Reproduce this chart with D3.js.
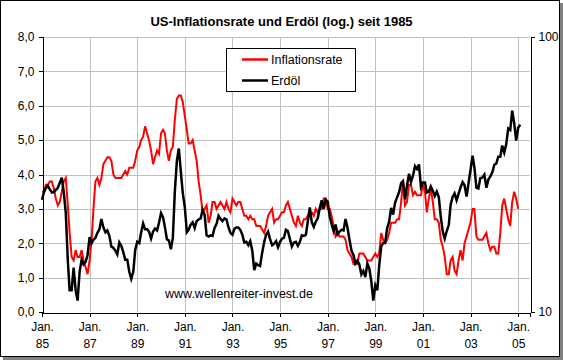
<!DOCTYPE html>
<html>
<head>
<meta charset="utf-8">
<script src="https://cdnjs.cloudflare.com/ajax/libs/d3/7.8.5/d3.min.js"></script>
<style>
  html, body { margin: 0; padding: 0; background: #ffffff; }
  svg { display: block; }
  text { font-family: Arial, "Liberation Sans", sans-serif; fill: #000; }
</style>
</head>
<body>
<script>
// ---------- DATA ----------
const title = "US-Inflationsrate und Erdöl (log.) seit 1985";
const seriesNames = ["Inflationsrate", "Erdöl"];
const watermark = "www.wellenreiter-invest.de";
const startYear = 1985; // monthly data starting January 1985

// US inflation rate (% y/y), monthly Jan 1985 – Jan 2005
const inflation = [
  3.5,3.5,3.7,3.7,3.8,3.8,3.6,3.3,3.1,3.2,3.5,3.8,
  3.9,3.1,2.3,1.6,1.5,1.8,1.6,1.6,1.8,1.5,1.3,1.1,
  1.5,2.1,3.0,3.8,3.9,3.7,3.9,4.3,4.4,4.5,4.5,4.4,
  4.0,3.9,3.9,3.9,3.9,4.0,4.1,4.0,4.2,4.2,4.2,4.4,
  4.7,4.8,5.0,5.1,5.4,5.2,5.0,4.7,4.3,4.5,4.7,4.6,
  5.2,5.3,5.2,4.7,4.4,4.7,4.8,5.6,6.2,6.3,6.3,6.1,
  5.7,5.3,4.9,4.9,5.0,4.7,4.4,3.8,3.4,2.9,3.0,3.1,
  2.6,2.8,3.2,3.2,3.0,3.1,3.2,3.1,3.0,3.2,3.0,2.9,
  3.3,3.2,3.1,3.2,3.2,3.0,2.8,2.8,2.7,2.8,2.7,2.7,
  2.5,2.5,2.5,2.4,2.3,2.5,2.8,2.9,3.0,2.6,2.7,2.7,
  2.8,2.9,2.9,3.1,3.2,3.0,2.8,2.6,2.5,2.8,2.6,2.5,
  2.7,2.7,2.8,2.9,2.9,2.8,3.0,2.9,3.0,3.0,3.3,3.3,
  3.0,3.0,2.8,2.5,2.2,2.3,2.2,2.2,2.2,2.1,1.8,1.7,
  1.6,1.4,1.4,1.4,1.7,1.7,1.7,1.6,1.5,1.5,1.5,1.6,
  1.7,1.6,1.7,2.3,2.1,2.0,2.1,2.3,2.6,2.6,2.6,2.7,
  2.7,3.2,3.8,3.1,3.2,3.7,3.7,3.4,3.5,3.4,3.4,3.4,
  3.7,3.5,2.9,3.3,3.6,3.2,2.7,2.7,2.6,2.1,1.9,1.6,
  1.1,1.1,1.5,1.6,1.2,1.1,1.5,1.8,1.5,2.0,2.2,2.4,
  2.6,3.0,3.0,2.2,2.1,2.1,2.1,2.2,2.3,2.0,1.8,1.9,
  1.9,1.7,1.7,2.3,3.1,3.3,3.0,2.7,2.5,3.2,3.5,3.3,
  3.0
];

// Crude oil price (USD/barrel, log scale), monthly Jan 1985 – Feb 2005
const oil = [
  25.6,27.3,28.2,28.8,27.9,27.2,27.3,27.8,28.3,29.5,30.8,27.2,
  22.9,15.4,12.0,12.0,14.5,12.0,11.0,14.0,15.5,14.9,15.2,16.1,
  18.7,17.8,18.3,18.6,19.4,20.0,21.8,20.3,19.5,19.8,18.9,17.3,
  17.1,16.7,16.2,17.9,17.4,16.5,15.5,15.5,14.0,13.2,14.0,16.8,
  18.0,17.8,19.4,21.0,20.0,20.0,19.6,18.5,19.6,20.1,19.8,21.1,
  22.9,22.1,20.4,18.4,18.2,16.9,18.6,27.5,35.5,39.3,32.3,27.0,
  24.0,19.5,19.9,20.8,21.2,20.2,21.4,21.7,21.9,23.5,22.5,19.0,
  18.8,19.0,18.9,20.2,20.9,22.4,21.8,21.4,21.9,21.7,20.3,19.4,
  19.1,20.1,20.3,20.3,19.9,19.1,17.9,18.0,17.5,18.1,16.7,14.2,
  15.0,14.8,14.7,16.4,17.9,19.1,19.6,18.4,17.5,17.7,18.1,17.2,
  18.0,18.5,18.6,19.9,19.7,18.4,17.3,17.9,18.0,17.4,18.0,19.0,
  18.9,19.1,21.3,24.0,21.2,20.4,21.3,21.9,23.9,25.5,23.7,25.6,
  25.2,22.2,20.9,19.7,20.8,19.2,19.6,19.9,19.8,21.8,20.2,18.3,
  16.7,16.1,15.0,15.4,14.9,13.7,14.1,13.4,15.0,14.4,12.9,11.0,
  12.5,12.0,14.7,17.3,17.8,17.9,20.1,21.3,23.9,22.6,25.0,26.1,
  27.3,29.4,29.9,25.7,28.8,31.8,29.7,31.3,33.9,33.1,34.4,28.5,
  29.6,29.6,27.2,27.4,28.6,27.6,26.4,27.4,26.2,22.2,19.6,18.5,
  19.7,20.7,24.5,26.2,27.0,25.5,26.9,28.4,29.7,28.9,26.3,29.4,
  32.9,37.0,33.6,28.3,28.1,30.7,30.8,31.6,28.3,30.3,31.1,32.2,
  34.3,34.7,36.7,36.7,40.3,38.0,40.7,46.5,45.9,54.0,48.5,42.0,
  46.8,48.0
];

const leftTicks = [0,1,2,3,4,5,6,7,8];
const rightTicks = [10, 100];
const xTickYears = [1985,1987,1989,1991,1993,1995,1997,1999,2001,2003,2005];

// ---------- LAYOUT ----------
const W = 563, H = 360;
const plot = { left: 42, right: 530, top: 37, bottom: 312 };

const svg = d3.select("body").append("svg").attr("width", W).attr("height", H);

// frame with shadow
svg.append("rect").attr("x", 3).attr("y", 3).attr("width", W - 3).attr("height", H - 3).attr("fill", "#808080");
svg.append("rect").attr("x", 0.5).attr("y", 0.5).attr("width", 559).attr("height", 356)
   .attr("fill", "#ffffff").attr("stroke", "#000").attr("stroke-width", 1);

const monthDate = i => new Date(startYear, i, 1);

const x = d3.scaleTime()
  .domain([new Date(1985, 0, 1), new Date(2005, 6, 1)])
  .range([plot.left, plot.right]);
const yL = d3.scaleLinear().domain([0, 8]).range([plot.bottom, plot.top]);
const yR = d3.scaleLog().domain([10, 100]).range([plot.bottom, plot.top]);

// gridlines
const grid = svg.append("g").attr("shape-rendering", "crispEdges");
grid.selectAll("line.h").data(leftTicks.filter(d => d > 0)).join("line")
  .attr("x1", plot.left).attr("x2", plot.right)
  .attr("y1", d => Math.round(yL(d)) + 0.5).attr("y2", d => Math.round(yL(d)) + 0.5)
  .attr("stroke", "#c0c0c0").attr("stroke-width", 1);
grid.selectAll("line.v").data(xTickYears.filter(d => d > 1985)).join("line")
  .attr("x1", d => Math.round(x(new Date(d, 0, 1))) + 0.5)
  .attr("x2", d => Math.round(x(new Date(d, 0, 1))) + 0.5)
  .attr("y1", plot.top).attr("y2", plot.bottom)
  .attr("stroke", "#c0c0c0").attr("stroke-width", 1);

// series lines
const infLine = d3.line().x((d, i) => x(monthDate(i))).y(d => yL(d));
const oilLine = d3.line().x((d, i) => x(monthDate(i))).y(d => yR(d));

svg.append("path").datum(inflation).attr("d", infLine)
  .attr("fill", "none").attr("stroke", "#ff0000").attr("stroke-width", 2)
  .attr("stroke-linejoin", "miter");
svg.append("path").datum(oil).attr("d", oilLine)
  .attr("fill", "none").attr("stroke", "#000000").attr("stroke-width", 2.5)
  .attr("stroke-linejoin", "miter");

// axes
const fmtComma = d => d3.format(".1f")(d).replace(".", ",");
const axL = svg.append("g").attr("transform", `translate(${plot.left + 0.5},0)`)
  .call(d3.axisLeft(yL).tickValues(leftTicks).tickSize(4).tickPadding(4).tickFormat(fmtComma));
const axR = svg.append("g").attr("transform", `translate(${plot.right + 0.5},0)`)
  .call(d3.axisRight(yR).tickValues(rightTicks).tickSize(4).tickPadding(4).tickFormat(d3.format("d")));
const axB = svg.append("g").attr("transform", `translate(0,${plot.bottom + 0.5})`)
  .call(d3.axisBottom(x).tickValues(xTickYears.map(y => new Date(y, 0, 1))).tickSize(4).tickPadding(4)
        .tickFormat(() => ""));

[axL, axR, axB].forEach(a => {
  a.selectAll("path.domain").attr("stroke", "#000").attr("shape-rendering", "crispEdges");
  a.selectAll(".tick line").attr("stroke", "#000").attr("shape-rendering", "crispEdges");
  a.selectAll("text").attr("font-family", "Arial, 'Liberation Sans', sans-serif")
    .attr("font-size", 12).attr("fill", "#000");
});

// two-line x labels
axB.selectAll(".tick text").each(function(d) {
  const t = d3.select(this);
  t.text(null).attr("y", 0).attr("dy", null);
  t.append("tspan").attr("x", 0).attr("y", 18).text("Jan.");
  t.append("tspan").attr("x", 0).attr("y", 35).text(String(d.getFullYear()).slice(2));
});

// title
svg.append("text").attr("x", 281.5).attr("y", 26).attr("text-anchor", "middle")
  .attr("font-size", 13).attr("font-weight", "bold").text(title);

// watermark
svg.append("text").attr("x", 165).attr("y", 298).attr("font-size", 12.5).text(watermark);

// legend
const lg = svg.append("g");
lg.append("rect").attr("x", 226.5).attr("y", 48.5).attr("width", 129).attr("height", 43)
  .attr("fill", "#fff").attr("stroke", "#000").attr("stroke-width", 1);
const legendItems = [
  { name: seriesNames[0], color: "#ff0000", y: 59.5 },
  { name: seriesNames[1], color: "#000000", y: 80.5 }
];
lg.selectAll("line").data(legendItems).join("line")
  .attr("x1", 242).attr("x2", 268).attr("y1", d => d.y).attr("y2", d => d.y)
  .attr("stroke", d => d.color).attr("stroke-width", 2.5);
lg.selectAll("text").data(legendItems).join("text")
  .attr("x", 271).attr("y", d => d.y + 4.5).attr("font-size", 12.5).text(d => d.name);
</script>
</body>
</html>
